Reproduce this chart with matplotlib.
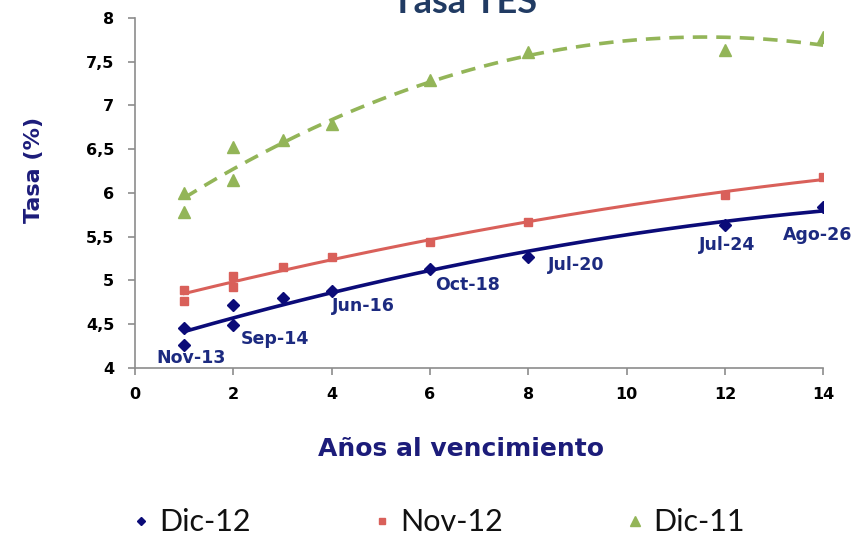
import numpy as np
import matplotlib
matplotlib.use("Agg")
import matplotlib.pyplot as plt
from matplotlib.ticker import FuncFormatter

# years to maturity and rates
x_dic12 = [1, 1, 2, 2, 3, 4, 6, 8, 12, 14]
y_dic12 = [4.46, 4.26, 4.72, 4.49, 4.80, 4.88, 5.13, 5.27, 5.63, 5.84]

x_nov12 = [1, 1, 2, 2, 3, 4, 6, 8, 12, 14]
y_nov12 = [4.89, 4.77, 5.05, 4.93, 5.15, 5.27, 5.44, 5.67, 5.98, 6.18]

x_dic11 = [1, 1, 2, 2, 3, 4, 6, 8, 12, 14]
y_dic11 = [6.00, 5.78, 6.52, 6.15, 6.60, 6.79, 7.29, 7.61, 7.63, 7.78]

# bond labels on the Dic-12 curve
bond_names = ['Nov-13', 'Sep-14', 'Jun-16', 'Oct-18', 'Jul-20', 'Jul-24', 'Ago-26']
bond_x = [1, 2, 4, 6, 8, 12, 14]
bond_y = [4.26, 4.49, 4.88, 5.13, 5.27, 5.63, 5.84]

navy = '#0B0B78'
red = '#D9605A'
green = '#93B558'
label_col = '#1C2A80'

fig = plt.figure(figsize=(8.61, 5.42), dpi=100)
ax = fig.add_axes([0.157, 0.321, 0.799, 0.646])

xs = np.linspace(1, 14, 200)


def trend(x, y, deg):
    return np.polyval(np.polyfit(x, y, deg), xs)


ax.plot(xs, trend(x_dic12, y_dic12, 2), color=navy, lw=2.6)
ax.plot(xs, trend(x_nov12, y_nov12, 2), color=red, lw=2.2)
ax.plot(xs, trend(x_dic11, y_dic11, 2), color=green, lw=2.6, ls=(0, (4, 2.5)))

ax.plot(x_dic12, y_dic12, 'D', color=navy, ms=6, ls='none', label='Dic-12')
ax.plot(x_nov12, y_nov12, 's', color=red, ms=6, ls='none', label='Nov-12')
ax.plot(x_dic11, y_dic11, '^', color=green, ms=9, ls='none', label='Dic-11')

# label placement: offset in points and horizontal alignment
offsets = [(5, -9), (5, -10), (0, -11), (4, -11.5), (14, -6), (2, -14.5), (-4, -20)]
aligns = ['center', 'left', 'left', 'left', 'left', 'center', 'center']
for name, bx, by, off, ha in zip(bond_names, bond_x, bond_y, offsets, aligns):
    ax.annotate(name, (bx, by), xytext=off, textcoords='offset points',
                ha=ha, va='center', fontsize=12.5, fontweight='bold',
                color=label_col, family='DejaVu Sans')

ax.set_xlim(0, 14)
ax.set_ylim(4, 8)
ax.set_xticks(range(0, 15, 2))
ax.set_yticks(np.arange(4, 8.01, 0.5))
ax.yaxis.set_major_formatter(FuncFormatter(lambda v, p: ('%g' % v).replace('.', ',')))

for s in ['top', 'right']:
    ax.spines[s].set_visible(False)
for s in ['left', 'bottom']:
    ax.spines[s].set_color('#8C8C8C')
    ax.spines[s].set_linewidth(1.2)
ax.tick_params(direction='out', length=5, color='#8C8C8C', width=1.2)
ax.tick_params(axis='y', pad=10)
ax.tick_params(axis='x', pad=9)
for lab in ax.get_xticklabels() + ax.get_yticklabels():
    lab.set_fontweight('heavy')
    lab.set_fontsize(11.5)
    lab.set_family('DejaVu Sans')

ax.set_xlabel('Años al vencimiento', fontsize=18, fontweight='bold',
              color='#1C1C7A', family='DejaVu Sans', labelpad=25)
ax.xaxis.label.set_x(0.473)
ax.set_ylabel('Tasa (%)', fontsize=16, fontweight='bold',
              color='#1C1C7A', family='DejaVu Sans', labelpad=30)
ax.yaxis.label.set_y(0.566)

# title sits partly above the top edge, as in the source image
fig.text(0.54, 1 - 13 / 542, 'Tasa TES', ha='center', va='baseline',
         fontsize=26, fontweight='bold', color='#213B63', family='Lato')

leg = fig.legend(loc='center', bbox_to_anchor=(0.509, 0.036), ncol=3,
                 frameon=False, handlelength=0.6, handletextpad=0.3,
                 columnspacing=4.0, markerscale=0.75,
                 prop={'family': 'Lato', 'size': 22})
for t in leg.get_texts():
    t.set_color('#111111')

plt.savefig('out.png', dpi=100)
